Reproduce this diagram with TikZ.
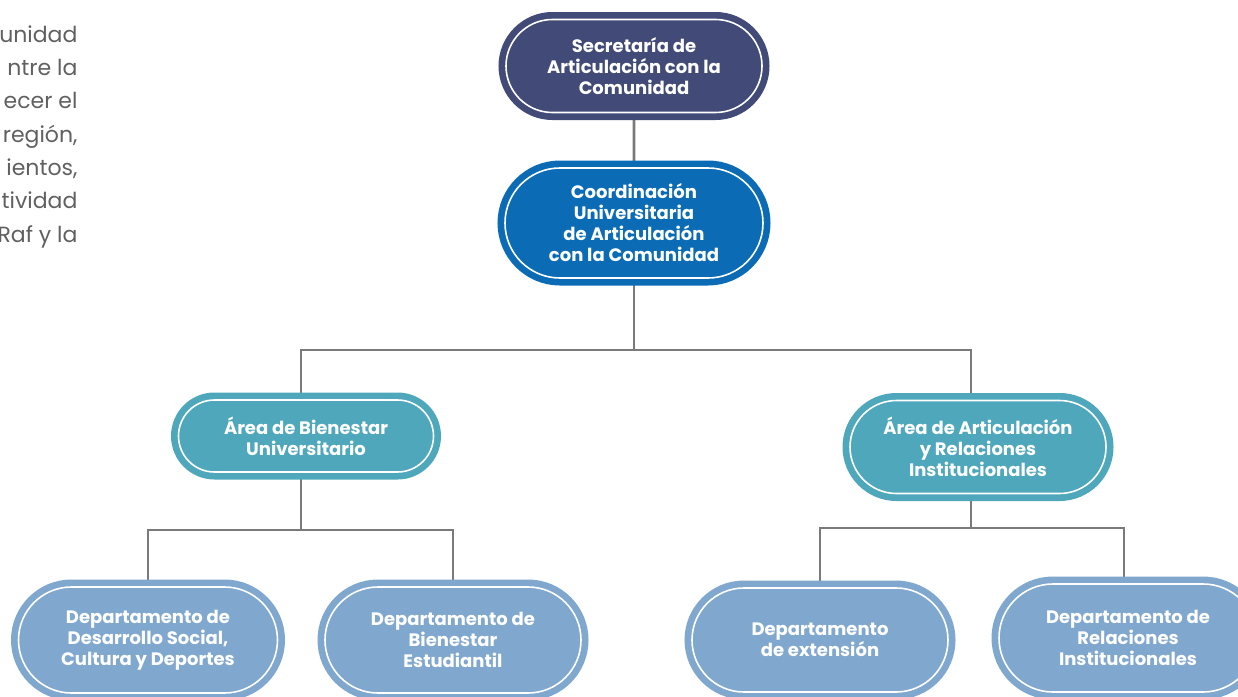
\documentclass[tikz,border=0pt]{standalone}
\usepackage{fontspec}
\setmainfont{Poppins}
\usepackage{tikz}
\usetikzlibrary{shapes.misc,backgrounds}

\definecolor{secnavy}{HTML}{424A78}
\definecolor{coordblue}{HTML}{0B6CB5}
\definecolor{areateal}{HTML}{4FA7BC}
\definecolor{deptblue}{HTML}{80A8CF}
\definecolor{linkgray}{HTML}{7A7A7A}
\definecolor{introgray}{HTML}{606060}

\tikzset{
  unit/.style={rounded rectangle, fill=#1, draw=white, line width=1.6pt,
    preaction={draw=#1, line width=15pt}, text=white, align=center,
    inner sep=0pt, font=\bfseries\fontsize{18}{21}\selectfont},
  link/.style={draw=linkgray, line width=2.8pt}
}

\begin{document}
\begin{tikzpicture}[x=1pt, y=-1pt]
	\useasboundingbox (0, 0) rectangle (1238, 696);
	
	\node[anchor=north east, align=right, text=introgray, font=\fontsize{22}{33.3}\selectfont] (intro) at (81, 22)
		{unidad\\ntre la\\ecer el\\región,\\ientos,\\tividad\\Raf y la};
	
	\node[unit=secnavy, minimum width=256, minimum height=93] (sec) at (634, 66)
		{Secretaría de\\Articulación con la\\Comunidad};
	\node[unit=coordblue, minimum width=258, minimum height=110] (coord) at (634, 223)
		{Coordinación\\Universitaria\\de Articulación\\con la Comunidad};
	\node[unit=areateal, minimum width=255, minimum height=72] (bien) at (306, 436)
		{Área de Bienestar\\Universitario};
	\node[unit=areateal, minimum width=256, minimum height=93] (arti) at (978, 447)
		{Área de Articulación\\y Relaciones\\Institucionales};
	\node[unit=deptblue, minimum width=259, minimum height=106] (desa) at (148, 640)
		{Departamento de\\Desarrollo Social,\\Cultura y Deportes};
	\node[unit=deptblue, minimum width=256, minimum height=106] (estu) at (453, 640)
		{Departamento de\\Bienestar\\Estudiantil};
	\node[unit=deptblue, minimum width=256, minimum height=104] (exte) at (820, 640)
		{Departamento\\de extensión};
	\node[unit=deptblue, minimum width=258, minimum height=108] (rela) at (1128, 638)
		{Departamento de\\Relaciones\\Institucionales};
	
	\coordinate (top) at (634, 350);
	\coordinate (left) at (301, 530);
	\coordinate (right) at (971, 528);
	
	\begin{scope}[on background layer]
		\draw[link] (sec) -- (coord);
		\draw[link] (coord) -- (top);
		\draw[link] (top) -| ([xshift=-5]bien.north);
		\draw[link] (top) -| ([xshift=-7]arti.north);
		\draw[link] (left |- bien.south) -- (left) -| (desa);
		\draw[link] (left) -| (estu);
		\draw[link] (right |- arti.south) -- (right) -| (exte);
		\draw[link] (right) -| ([xshift=-4]rela.north);
	\end{scope}
\end{tikzpicture}
\end{document}
